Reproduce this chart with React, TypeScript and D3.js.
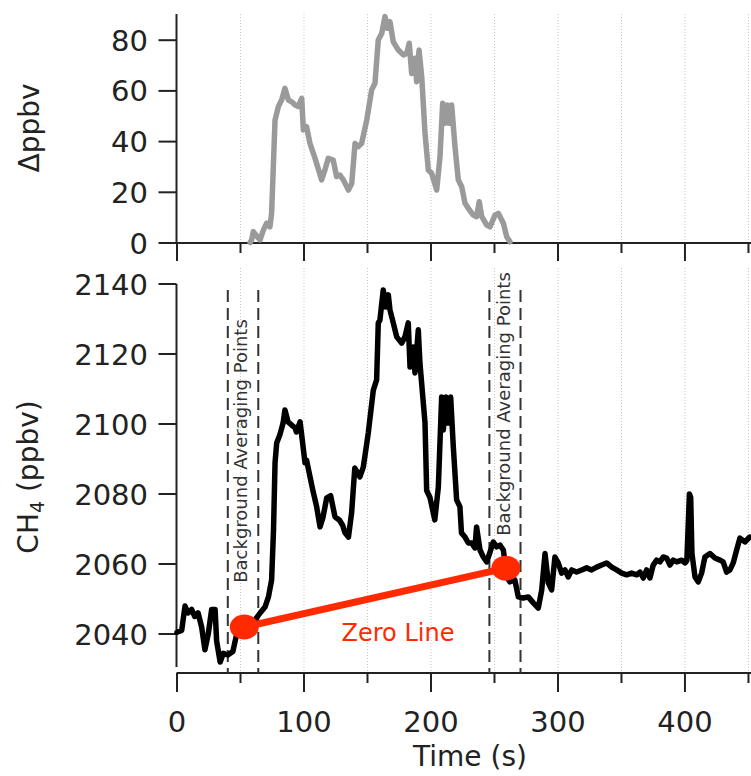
import React from "react";
import * as d3 from "d3";

// ---- data ----
const ch4Time = [0, 3.7, 6.3, 8.7, 11.5, 14, 16.6, 19.4, 22, 24.6, 27.3, 30, 31.2, 34, 36.5, 40, 44, 47, 50, 55, 58, 61.4, 65.4, 69.3, 72, 74.5, 76, 77.2, 78.5, 81, 83.5, 85, 87.5, 90.3, 93, 94, 96.9, 98, 100.8, 102, 104.7, 107, 110, 112.6, 115, 117.9, 121, 124.4, 128, 130.5, 132.3, 135, 137.5, 140, 144, 146.7, 150.6, 154.6, 157.2, 158.5, 159.8, 162.4, 164.4, 166.4, 167.7, 170.3, 173, 176.9, 179.5, 182.1, 183.5, 186.1, 187.4, 190, 191.3, 195.3, 196.6, 199.2, 203, 205.8, 208.4, 209.7, 211.8, 213.6, 215.5, 217.6, 220.2, 222.8, 224, 226.8, 229.4, 232, 234.6, 235.9, 238.6, 241.2, 243.9, 246.5, 249, 251.7, 254.3, 257, 259.6, 262.2, 266, 268.8, 272.7, 276.6, 280.6, 284.5, 287.2, 289.8, 292.4, 295, 297.6, 300.2, 302.9, 305.5, 308, 310.8, 314.7, 318.7, 322.6, 326.5, 330.5, 334.4, 338.3, 342.3, 346.2, 350.2, 354.1, 358, 362, 364.6, 367.2, 369.8, 372.4, 375, 377.7, 380.3, 382.9, 385.6, 388.2, 390.8, 393.5, 397.4, 400, 401.5, 403.5, 404.5, 405.5, 407.9, 410.5, 413.1, 415.7, 419.7, 423.6, 427.6, 430.1, 432.8, 435.4, 438, 440.7, 443.3, 447.2, 451];
const ch4Value = [2040.5, 2041, 2048, 2046, 2047, 2045, 2046, 2042, 2035.5, 2040, 2047, 2047, 2038, 2032, 2034.5, 2034, 2035, 2040, 2042, 2043, 2043.5, 2044, 2046, 2047.7, 2050.6, 2055.4, 2069.7, 2088.9, 2094.6, 2096.9, 2100.2, 2104, 2100.6, 2099.7, 2098.9, 2097.7, 2100.6, 2097.4, 2088.9, 2089.7, 2085, 2081, 2076.3, 2070.6, 2073.4, 2078.9, 2079.5, 2073.5, 2072.5, 2071, 2068.9, 2067.7, 2074.6, 2087.4, 2084.9, 2087.7, 2097.4, 2109.7, 2112.6, 2128.9, 2129.7, 2138.3, 2133.4, 2136.9, 2132.6, 2128.9, 2124.9, 2123.1, 2124.9, 2128.9, 2116.3, 2122, 2114.6, 2126.9, 2117.4, 2100.3, 2081, 2079, 2072.6, 2082, 2107.7, 2098.3, 2107.7, 2100.3, 2107.7, 2093.4, 2078.3, 2076.3, 2068.9, 2067.7, 2066, 2066, 2064.6, 2070.6, 2064, 2062, 2060.6, 2063.4, 2066.3, 2064.9, 2065.4, 2064, 2056.3, 2054.9, 2055.5, 2050.6, 2050.3, 2050.6, 2048.9, 2047.4, 2052.6, 2063, 2054.6, 2052.6, 2062, 2060.3, 2057.4, 2058.3, 2056.3, 2058.3, 2057.7, 2058.3, 2058.9, 2058.3, 2059.1, 2059.7, 2060.3, 2059.1, 2058.3, 2057.4, 2056.9, 2057.4, 2056.9, 2057.7, 2056, 2058.3, 2056, 2059.7, 2061.1, 2060.6, 2062, 2061.7, 2059.7, 2061.1, 2060.6, 2061.1, 2060.3, 2061, 2080, 2079, 2063, 2056.3, 2054.9, 2057.4, 2062, 2063, 2061.7, 2061.1, 2060.6, 2057.7, 2058.3, 2060.3, 2064, 2067.4, 2066.3, 2067.7];

const deltaTime = [57.6, 58.8, 60.1, 63.2, 65.4, 68, 70.6, 73.2, 74.5, 77.2, 79.8, 82.4, 85, 87.7, 90.3, 93, 95.5, 98.2, 99.5, 102, 104.7, 108.7, 113.9, 116.5, 119.1, 123, 125.7, 128.3, 131, 135, 137.6, 140.2, 142.8, 145.4, 149.4, 153.3, 155.9, 158.5, 161.2, 163.8, 165.6, 167.7, 170.3, 174.3, 178.2, 180.9, 182.9, 184.8, 187.4, 188.7, 190.6, 192.7, 195.3, 197.9, 200.5, 204.5, 207.1, 209.2, 211, 212.8, 214.4, 216.3, 218.9, 221.5, 224.2, 226.8, 229.4, 233.3, 235.9, 238, 240, 243.9, 246.5, 250.4, 253, 257, 259.6, 262.2];
const deltaValue = [0.2, 1.2, 4.5, 2.5, 1.2, 5.1, 7.8, 6.4, 11.7, 48.5, 53.8, 56.4, 61, 56.4, 55.7, 54.4, 53.8, 57.1, 44.6, 45.9, 39.3, 33.4, 24.9, 28.8, 33.4, 32.7, 26.2, 26.8, 24.9, 20.9, 23.5, 39.3, 38, 39.3, 48.5, 60.4, 63, 80.1, 82.7, 89.3, 84.7, 87.3, 79.4, 76.1, 74.2, 74.8, 78.8, 66.9, 72.9, 63.6, 76.1, 65.6, 43.3, 28.8, 27.5, 20.9, 34, 55.1, 47.2, 54.4, 47.2, 54.4, 38, 24.9, 22.2, 15.7, 13.7, 11, 10.4, 16.3, 10.4, 7.1, 6.4, 11, 11.7, 7.8, 2.5, 0.5];

const xMajorTicks = [0, 100, 200, 300, 400];
const xMinorTicks = [50, 150, 250, 350, 450];
const gridTicks = [50, 100, 150, 200, 250, 300, 350, 400, 450];
const deltaTicks = [0, 20, 40, 60, 80];
const ch4Ticks = [2040, 2060, 2080, 2100, 2120, 2140];
const bgWindowStart = [40, 246];
const bgWindowEnd = [64, 270.5];
const zeroTime = [53, 259];
const zeroValue = [2042, 2058.8];

const FONT = "DejaVu Sans";

export default function App() {
  const x = d3.scaleLinear().domain([0, 452]).range([177, 751]);
  const yTop = d3.scaleLinear().domain([0, 90]).range([243, 14.85]);
  const yBot = d3.scaleLinear().domain([2040, 2140]).range([634, 284]);

  const ch4Line = d3
    .line<number>()
    .x((_, i) => x(ch4Time[i]))
    .y((v) => yBot(v))(ch4Value) as string;
  const deltaLine = d3
    .line<number>()
    .x((_, i) => x(deltaTime[i]))
    .y((v) => yTop(v))(deltaValue) as string;

  const topAxisY = yTop(0);
  const botAxisY = 673;
  const axisX = 176.5;
  const red = "#ff2a00";

  return (
    <div style={{ position: "absolute", left: 0, top: 0 }}>
      <svg width={751} height={776} style={{ display: "block", background: "#fff" }}>
        {/* grid lines */}
        {gridTicks.map((t) => (
          <g key={"g" + t}>
            <line x1={x(t)} x2={x(t)} y1={14} y2={topAxisY} stroke="#c8c8c8" strokeWidth={1} strokeDasharray="1,2" />
            <line x1={x(t)} x2={x(t)} y1={268} y2={botAxisY} stroke="#c8c8c8" strokeWidth={1} strokeDasharray="1,2" />
          </g>
        ))}

        {/* top panel axes */}
        <line x1={axisX} x2={axisX} y1={14} y2={topAxisY + 1} stroke="#222" strokeWidth={2} />
        <line x1={axisX} x2={751} y1={topAxisY} y2={topAxisY} stroke="#222" strokeWidth={2} />
        {deltaTicks.map((v) => (
          <g key={"dt" + v}>
            <line x1={axisX - 18} x2={axisX} y1={yTop(v)} y2={yTop(v)} stroke="#222" strokeWidth={2} />
            <text x={148} y={yTop(v) + 10.5} textAnchor="end" fontFamily={FONT} fontSize={29} fill="#222">
              {v}
            </text>
          </g>
        ))}
        {xMajorTicks.map((t) => (
          <line key={"tmj" + t} x1={x(t)} x2={x(t)} y1={topAxisY} y2={topAxisY + 18} stroke="#222" strokeWidth={2} />
        ))}
        {xMinorTicks.map((t) => (
          <line key={"tmn" + t} x1={x(t)} x2={x(t)} y1={topAxisY} y2={topAxisY + 10} stroke="#222" strokeWidth={2} />
        ))}
        <text transform={`translate(39,128) rotate(-90)`} textAnchor="middle" fontFamily={FONT} fontSize={28} fill="#222">
          Δppbv
        </text>

        {/* delta line */}
        <path d={deltaLine} fill="none" stroke="#9a9a9a" strokeWidth={5.5} strokeLinejoin="round" strokeLinecap="round" />

        {/* bottom panel axes */}
        <line x1={axisX} x2={axisX} y1={yBot(2140)} y2={667} stroke="#222" strokeWidth={2} />
        <line x1={axisX} x2={751} y1={botAxisY} y2={botAxisY} stroke="#222" strokeWidth={2} />
        {ch4Ticks.map((v) => (
          <g key={"ct" + v}>
            <line x1={axisX - 18} x2={axisX} y1={yBot(v)} y2={yBot(v)} stroke="#222" strokeWidth={2} />
            <text x={148} y={yBot(v) + 10.5} textAnchor="end" fontFamily={FONT} fontSize={29} fill="#222">
              {v}
            </text>
          </g>
        ))}
        {xMajorTicks.map((t) => (
          <g key={"bmj" + t}>
            <line x1={x(t)} x2={x(t)} y1={botAxisY} y2={botAxisY + 19} stroke="#222" strokeWidth={2} />
            <text x={x(t)} y={732} textAnchor="middle" fontFamily={FONT} fontSize={29} fill="#222">
              {t}
            </text>
          </g>
        ))}
        {xMinorTicks.map((t) => (
          <line key={"bmn" + t} x1={x(t)} x2={x(t)} y1={botAxisY} y2={botAxisY + 10} stroke="#222" strokeWidth={2} />
        ))}
        <text x={470} y={766} textAnchor="middle" fontFamily={FONT} fontSize={28} fill="#222">
          Time (s)
        </text>
        <text transform={`translate(38,477) rotate(-90)`} textAnchor="middle" fontFamily={FONT} fontSize={28} fill="#222">
          CH
          <tspan fontSize={19} dy={6}>4</tspan>
          <tspan dy={-6}> (ppbv)</tspan>
        </text>

        {/* background averaging windows */}
        {bgWindowStart.map((s, i) => (
          <g key={"bg" + i}>
            <line x1={x(s)} x2={x(s)} y1={290} y2={botAxisY} stroke="#333" strokeWidth={2} strokeDasharray="12,6" />
            <line x1={x(bgWindowEnd[i])} x2={x(bgWindowEnd[i])} y1={290} y2={botAxisY} stroke="#333" strokeWidth={2} strokeDasharray="12,6" />
          </g>
        ))}
        <text transform={`translate(247,451) rotate(-90)`} textAnchor="middle" fontFamily={FONT} fontSize={18} fill="#333">
          Background Averaging Points
        </text>
        <text transform={`translate(510,404) rotate(-90)`} textAnchor="middle" fontFamily={FONT} fontSize={18} fill="#333">
          Background Averaging Points
        </text>

        {/* CH4 line */}
        <path d={ch4Line} fill="none" stroke="#000" strokeWidth={5.5} strokeLinejoin="round" strokeLinecap="round" />

        {/* zero line */}
        <line
          x1={x(zeroTime[0])}
          y1={yBot(zeroValue[0])}
          x2={x(zeroTime[1])}
          y2={yBot(zeroValue[1])}
          stroke={red}
          strokeWidth={7}
        />
        {zeroTime.map((t, i) => (
          <ellipse key={"z" + i} cx={x(t)} cy={yBot(zeroValue[i])} rx={14.5} ry={12.5} fill={red} />
        ))}
        <text x={398} y={641} textAnchor="middle" fontFamily={FONT} fontSize={24} fill={red}>
          Zero Line
        </text>
      </svg>
    </div>
  );
}
